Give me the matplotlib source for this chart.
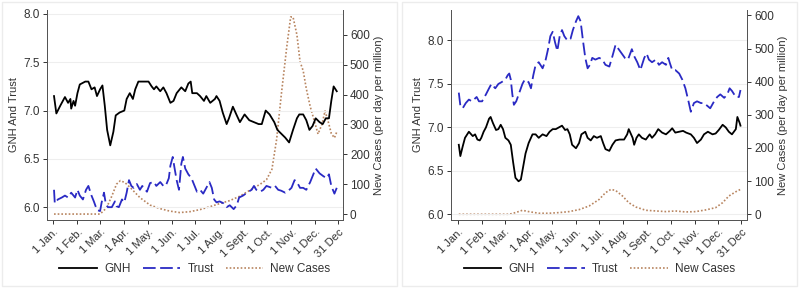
import pandas as pd
import numpy as np
import matplotlib
matplotlib.use('Agg')
import matplotlib.pyplot as plt
from matplotlib.patches import Rectangle

# days counted from 1 Jan 2020
start = pd.Timestamp('2020-01-01')

# ---- left panel ----
l_gnh_day = [1, 4, 9, 15, 19, 22, 23, 26, 28, 31, 34, 41, 45, 49, 53, 56, 60, 63, 66, 69,
             73, 77, 80, 85, 91, 94, 98, 102, 105, 109, 115, 122, 126, 129, 132, 137, 141, 145, 150, 154,
             158, 164, 169, 173, 176, 178, 184, 188, 193, 196, 201, 207, 209, 213, 217, 222, 225, 230, 235, 239,
             245, 251, 257, 263, 267, 272, 277, 283, 287, 292, 297, 302, 307, 312, 315, 320, 324, 328, 332, 336,
             341, 345, 349, 353, 356, 359, 363]
l_gnh = [7.15, 6.97, 7.05, 7.14, 7.08, 7.12, 7.02, 7.10, 7.05, 7.18, 7.27, 7.30, 7.30, 7.22, 7.24, 7.15, 7.22, 7.26, 7.05, 6.80,
         6.64, 6.78, 6.95, 6.98, 7.00, 7.12, 7.18, 7.12, 7.22, 7.30, 7.30, 7.30, 7.25, 7.22, 7.25, 7.20, 7.24, 7.18, 7.08, 7.10,
         7.18, 7.24, 7.20, 7.28, 7.30, 7.18, 7.18, 7.15, 7.10, 7.15, 7.08, 7.12, 7.15, 7.10, 6.98, 6.86, 6.92, 7.04, 6.95, 6.88,
         6.96, 6.90, 6.88, 6.86, 6.86, 7.00, 6.96, 6.88, 6.80, 6.76, 6.72, 6.67, 6.80, 6.92, 6.96, 6.96, 6.90, 6.80, 6.84, 6.92,
         6.88, 6.86, 6.92, 6.92, 7.10, 7.25, 7.20]

l_trust_day = [1, 2, 6, 11, 15, 19, 23, 28, 31, 34, 38, 42, 45, 49, 52, 56, 60, 62, 65, 67,
               70, 75, 79, 81, 84, 88, 91, 94, 97, 100, 103, 107, 111, 114, 120, 124, 129, 132, 137, 141,
               144, 148, 150, 153, 155, 158, 161, 164, 166, 169, 173, 177, 181, 184, 188, 192, 196, 200, 203, 206,
               209, 213, 218, 222, 226, 231, 235, 238, 243, 250, 254, 257, 260, 265, 269, 273, 280, 284, 288, 292,
               297, 301, 305, 309, 312, 316, 320, 324, 329, 333, 336, 341, 346, 350, 353, 356, 360, 363]
l_trust = [6.18, 6.04, 6.08, 6.10, 6.12, 6.10, 6.15, 6.10, 6.18, 6.12, 6.08, 6.18, 6.22, 6.12, 6.06, 5.97, 5.96, 6.05, 6.15, 6.05,
           6.00, 6.00, 6.06, 6.01, 6.00, 6.08, 6.05, 6.15, 6.28, 6.22, 6.20, 6.24, 6.18, 6.22, 6.16, 6.25, 6.26, 6.22, 6.26, 6.22,
           6.22, 6.30, 6.43, 6.52, 6.42, 6.28, 6.18, 6.45, 6.52, 6.40, 6.34, 6.30, 6.22, 6.16, 6.18, 6.14, 6.20, 6.26, 6.20, 6.08,
           6.05, 6.06, 6.04, 6.00, 6.02, 5.98, 6.02, 6.10, 6.12, 6.16, 6.18, 6.22, 6.18, 6.16, 6.18, 6.22, 6.20, 6.22, 6.18, 6.17,
           6.15, 6.17, 6.20, 6.28, 6.26, 6.20, 6.20, 6.18, 6.26, 6.34, 6.40, 6.35, 6.32, 6.30, 6.34, 6.22, 6.14, 6.20]

l_cases_day = [1, 60, 68, 75, 81, 86, 92, 100, 111, 124, 137, 149, 162, 175, 188, 201, 213, 226, 239, 252,
               265, 273, 280, 286, 292, 299, 304, 307, 312, 316, 320, 324, 329, 335, 339, 344, 348, 352, 356, 360, 363]
l_cases = [0, 0, 20, 60, 100, 112, 105, 85, 55, 30, 18, 10, 5, 8, 15, 25, 35, 45, 60, 80,
           100, 115, 150, 250, 400, 560, 660, 660, 600, 510, 480, 420, 360, 305, 268, 300, 345, 310, 270, 255, 275]

# ---- right panel ----
r_gnh_day = [1, 3, 6, 9, 14, 19, 22, 25, 28, 30, 33, 36, 40, 42, 45, 49, 52, 55, 58, 61,
             65, 68, 71, 74, 78, 81, 84, 87, 91, 96, 100, 104, 109, 114, 118, 122, 126, 130, 134, 138,
             141, 144, 147, 152, 156, 159, 164, 167, 171, 175, 179, 184, 187, 190, 195, 199, 203, 208, 214, 218,
             220, 225, 227, 230, 233, 237, 242, 247, 250, 254, 258, 263, 268, 273, 276, 280, 285, 290, 294, 300,
             304, 308, 313, 317, 322, 328, 332, 336, 341, 345, 349, 353, 358, 360, 363, 364]
r_gnh = [6.80, 6.67, 6.78, 6.88, 6.95, 6.90, 6.92, 6.86, 6.85, 6.88, 6.95, 7.00, 7.10, 7.12, 7.05, 6.97, 6.98, 7.03, 6.98, 6.88,
         6.85, 6.80, 6.60, 6.42, 6.38, 6.40, 6.55, 6.70, 6.82, 6.92, 6.92, 6.88, 6.92, 6.90, 6.95, 6.98, 6.98, 7.00, 7.02, 6.97,
         6.98, 6.92, 6.80, 6.76, 6.82, 6.92, 6.95, 6.88, 6.85, 6.90, 6.88, 6.90, 6.82, 6.75, 6.73, 6.80, 6.85, 6.86, 6.86, 6.92,
         6.98, 6.88, 6.80, 6.88, 6.92, 6.88, 6.86, 6.92, 6.88, 6.92, 6.98, 6.94, 6.92, 6.96, 6.99, 6.94, 6.95, 6.96, 6.94, 6.92,
         6.88, 6.82, 6.86, 6.92, 6.95, 6.92, 6.93, 6.97, 7.03, 7.00, 6.95, 6.92, 6.98, 7.12, 7.05, 7.02]

r_trust_day = [1, 3, 6, 10, 14, 18, 24, 27, 31, 36, 40, 43, 48, 52, 56, 61, 64, 66, 68, 70,
               72, 75, 79, 83, 86, 91, 94, 97, 100, 104, 109, 113, 116, 119, 122, 125, 128, 131, 134, 137,
               141, 145, 148, 152, 155, 158, 161, 164, 167, 170, 173, 177, 182, 186, 190, 195, 199, 203, 207, 211,
               215, 219, 224, 227, 231, 235, 240, 243, 246, 250, 255, 259, 263, 268, 271, 273, 276, 280, 285, 289,
               293, 297, 300, 304, 308, 313, 317, 321, 325, 330, 334, 338, 343, 347, 350, 353, 358, 362, 364]
r_trust = [7.40, 7.25, 7.22, 7.28, 7.32, 7.30, 7.35, 7.30, 7.30, 7.38, 7.45, 7.50, 7.45, 7.50, 7.52, 7.55, 7.60, 7.62, 7.55, 7.38,
           7.26, 7.30, 7.40, 7.50, 7.55, 7.52, 7.45, 7.60, 7.72, 7.75, 7.68, 7.78, 7.90, 8.05, 8.10, 7.98, 7.88, 8.05, 8.12, 8.05,
           8.00, 8.02, 8.12, 8.22, 8.28, 8.22, 8.00, 7.80, 7.68, 7.72, 7.80, 7.78, 7.80, 7.78, 7.72, 7.70, 7.82, 7.95, 7.90, 7.85,
           7.80, 7.78, 7.90, 7.82, 7.75, 7.66, 7.80, 7.85, 7.78, 7.75, 7.78, 7.72, 7.75, 7.72, 7.80, 7.74, 7.66, 7.66, 7.62, 7.55,
           7.45, 7.30, 7.18, 7.28, 7.30, 7.28, 7.28, 7.25, 7.22, 7.30, 7.35, 7.38, 7.34, 7.38, 7.45, 7.42, 7.35, 7.35, 7.43]

r_cases_day = [1, 66, 74, 83, 91, 104, 117, 130, 143, 156, 169, 182, 190, 197, 203, 212, 220, 229, 242, 255,
               268, 280, 293, 306, 319, 332, 341, 349, 358, 364]
r_cases = [0, 0, 5, 12, 8, 3, 3, 5, 8, 14, 25, 45, 65, 75, 72, 55, 35, 22, 12, 10,
           8, 10, 7, 8, 13, 20, 35, 55, 68, 75]

tick_dates = ['2020-01-01', '2020-02-01', '2020-03-01', '2020-04-01', '2020-05-01', '2020-06-01',
              '2020-07-01', '2020-08-01', '2020-09-01', '2020-10-01', '2020-11-01', '2020-12-01', '2020-12-31']
tick_labels = ['1 Jan.', '1 Feb.', '1 Mar.', '1 Apr.', '1 May.', '1 Jun.', '1 Jul.',
               '1 Aug.', '1 Sept.', '1 Oct.', '1 Nov.', '1 Dec.', '31 Dec']

c_trust = '#2a2ac4'
c_cases = '#b88560'
c_text = '#333333'

plt.rcParams['font.family'] = ['Liberation Sans', 'DejaVu Sans']
plt.rcParams['font.size'] = 8

fig = plt.figure(figsize=(7.99, 2.88), dpi=100)

# panel frames
for x0 in [0.003, 0.503]:
    fig.patches.append(Rectangle((x0, 0.006), 0.494, 0.988, transform=fig.transFigure,
                                 fill=False, edgecolor='#ececec', linewidth=1))


def days(d):
    return start + pd.to_timedelta(d, unit='D')


def panel(rect, gd, g, td, t, cd, c, ylim, ylim2, xlim):
    ax = fig.add_axes(rect)
    ax2 = ax.twinx()
    ax.set_zorder(ax2.get_zorder() + 1)
    ax.patch.set_visible(False)
    h1, = ax.plot(days(gd), g, color='black', lw=1.3, label='GNH')
    h2, = ax.plot(days(td), t, color=c_trust, lw=1.3, ls=(0, (7, 2.5)), label='Trust')
    h3, = ax2.plot(days(cd), c, color=c_cases, lw=1.2, ls=(0, (1, 1.2)), label='New Cases')
    ax.set_ylim(*ylim)
    ax2.set_ylim(*ylim2)
    ax.set_xlim(days(xlim[0]), days(xlim[1]))
    ax.set_yticks([6.0, 6.5, 7.0, 7.5, 8.0])
    ax.set_yticklabels(['6.0', '6.5', '7.0', '7.5', '8.0'])
    ax2.set_yticks([0, 100, 200, 300, 400, 500, 600])
    ax.yaxis.grid(True, color='#eeeeee', lw=0.8)
    ax.set_axisbelow(True)
    ax.set_xticks(pd.to_datetime(tick_dates))
    ax.set_xticklabels(tick_labels, rotation=45, ha='right', rotation_mode='anchor')
    ax.set_ylabel('GNH And Trust', color=c_text, labelpad=3)
    ax2.set_ylabel('New Cases (per day per million)', color=c_text, labelpad=3)
    for a in (ax, ax2):
        a.tick_params(colors=c_text, labelsize=8.5, length=3, width=0.7, pad=2)
        a.spines['top'].set_visible(False)
        for s in ('left', 'right', 'bottom'):
            a.spines[s].set_color('#555555')
            a.spines[s].set_linewidth(0.7)
    ax.tick_params(axis='x', labelsize=8)
    ax.legend(handles=[h1, h2, h3], loc='center', bbox_to_anchor=(0.5, -0.235), ncol=3,
              frameon=False, handlelength=3.2, handletextpad=0.6, columnspacing=1.0,
              fontsize=8.5, labelcolor=c_text)
    return ax


panel([0.0588, 0.236, 0.3705, 0.729], l_gnh_day, l_gnh, l_trust_day, l_trust,
      l_cases_day, l_cases, (5.867, 8.04), (-20, 683), (-8, 371))
panel([0.5645, 0.236, 0.371, 0.729], r_gnh_day, r_gnh, r_trust_day, r_trust,
      r_cases_day, r_cases, (5.934, 8.35), (-17.4, 616), (-9, 373))

fig.savefig('out.png', dpi=100)
